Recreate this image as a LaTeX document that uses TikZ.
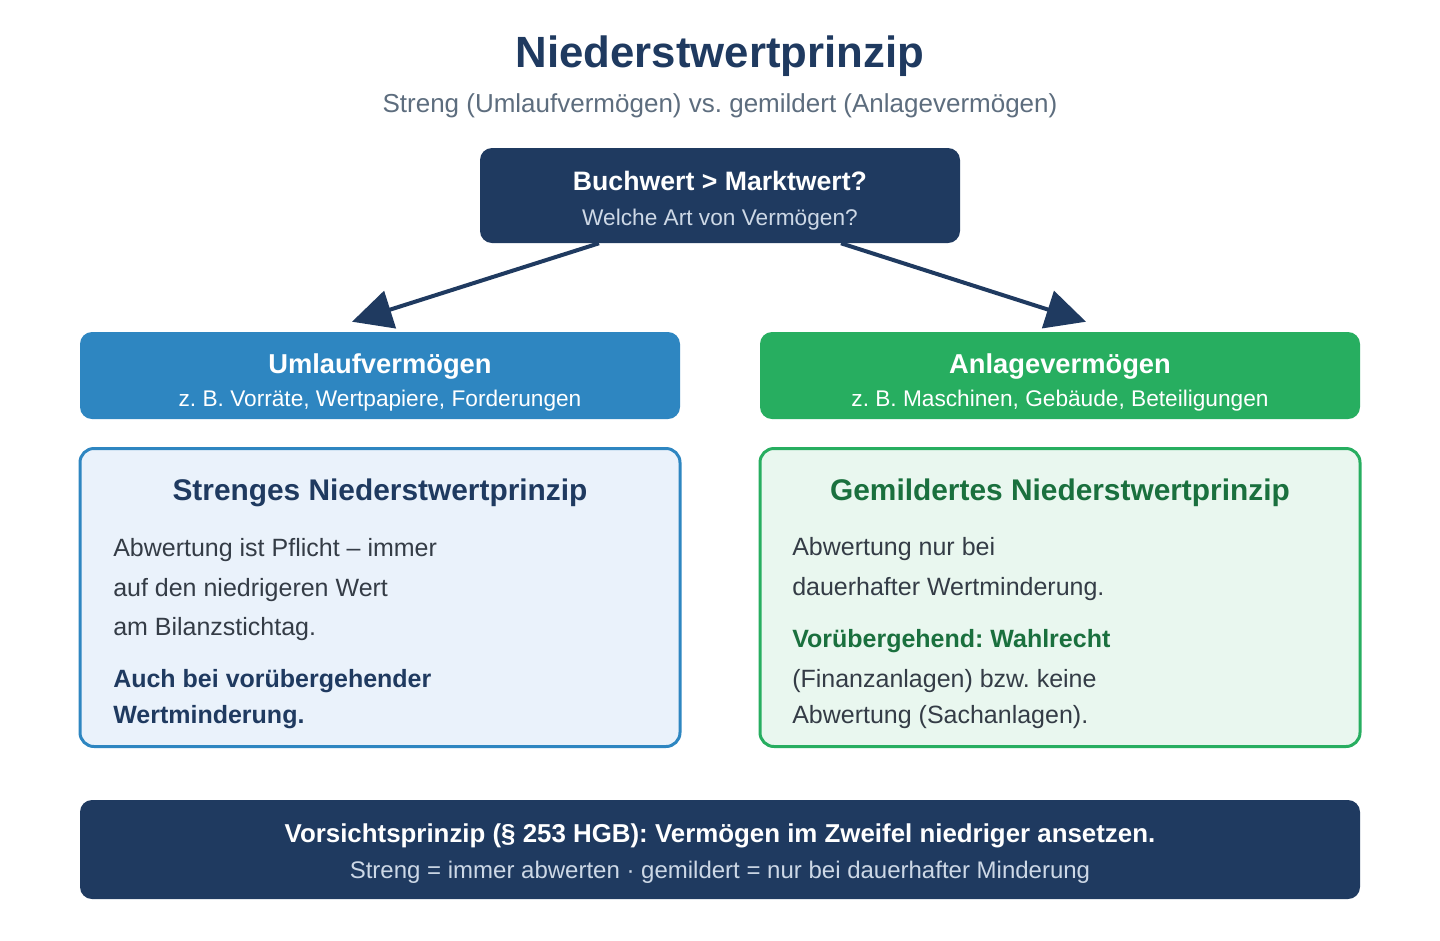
\documentclass[tikz,border=0pt]{standalone}
\usepackage{fontspec}
\setmainfont{Liberation Sans}
\usetikzlibrary{arrows.meta,positioning,calc}
\definecolor{navyDark}{RGB}{31,58,96}
\definecolor{subGray}{RGB}{93,109,126}
\definecolor{paleText}{RGB}{205,216,230}
\definecolor{umlaufBlue}{RGB}{46,134,193}
\definecolor{anlageGreen}{RGB}{39,174,96}
\definecolor{umlaufLight}{RGB}{234,242,251}
\definecolor{anlageLight}{RGB}{233,247,239}
\definecolor{greenDark}{RGB}{26,112,62}
\definecolor{bodyText}{RGB}{52,60,70}
\frenchspacing

\begin{document}
\begin{tikzpicture}[x=0.75pt,y=-0.75pt,
  box/.style={rectangle,rounded corners=9pt,inner sep=0pt},
  detail/.style={rectangle,rounded corners=10.5pt,inner sep=0pt,line width=2.25pt,
                 minimum width=450pt,minimum height=223.5pt},
  txt/.style={inner sep=0pt,anchor=base},
  line/.style={inner sep=0pt,anchor=base west,text=bodyText,font=\fontsize{18.75}{22}\selectfont},
  link/.style={-{Triangle[length=30pt,width=29pt]},line width=3pt,draw=navyDark}
]
  \fill[white] (0,0) rectangle (1440,940);
  \useasboundingbox (0,0) rectangle (1440,940);

  % title
  \node[txt,text=navyDark,font=\fontsize{32.8}{38}\selectfont\bfseries] (title) at (720,67) {Niederstwertprinzip};
  \node[txt,text=subGray,font=\fontsize{19.5}{23}\selectfont] (subtitle) at (720,112)
    {Streng (Umlaufvermögen) vs. gemildert (Anlagevermögen)};

  % question
  \node[box,fill=navyDark,minimum width=360pt,minimum height=71.25pt] (q) at (720,195.5) {};
  \node[txt,text=white,font=\fontsize{20}{24}\selectfont\bfseries] (qhead) at (720,190) {Buchwert > Marktwert?};
  \node[txt,text=paleText,font=\fontsize{17}{20}\selectfont] (qsub) at (720,225) {Welche Art von Vermögen?};

  % asset classes
  \node[box,fill=umlaufBlue,minimum width=450pt,minimum height=65.25pt] (u) at (380,375.5) {};
  \node[txt,text=white,font=\fontsize{20.5}{24}\selectfont\bfseries] (uhead) at (380,373) {Umlaufvermögen};
  \node[txt,text=white,font=\fontsize{17}{20}\selectfont] (usub) at (380,406) {z. B. Vorräte, Wertpapiere, Forderungen};

  \node[box,fill=anlageGreen,minimum width=450pt,minimum height=65.25pt] (a) at (1060,375.5) {};
  \node[txt,text=white,font=\fontsize{20.5}{24}\selectfont\bfseries] (ahead) at (1060,373) {Anlagevermögen};
  \node[txt,text=white,font=\fontsize{17}{20}\selectfont] (asub) at (1060,406) {z. B. Maschinen, Gebäude, Beteiligungen};

  \draw[link] ($(q.south)+(-121,0)$) -- ($(u.north)+(-28,-10)$);
  \draw[link] ($(q.south)+(121,0)$) -- ($(a.north)+(26,-10)$);

  % strenges Niederstwertprinzip
  \node[detail,draw=umlaufBlue,fill=umlaufLight] (s) at (380,597.5) {};
  \node[txt,text=navyDark,font=\fontsize{22.4}{26}\selectfont\bfseries] (shead) at (380,500) {Strenges Niederstwertprinzip};
  \node[line] (s1) at (113,556) {Abwertung ist Pflicht – immer};
  \node[line] (s2) at (113,596) {auf den niedrigeren Wert};
  \node[line] (s3) at (113,635) {am Bilanzstichtag.};
  \node[line,text=navyDark,font=\fontsize{18.75}{22}\selectfont\bfseries] (s4) at (113,687) {Auch bei vorübergehender};
  \node[line,text=navyDark,font=\fontsize{18.75}{22}\selectfont\bfseries] (s5) at (113,723) {Wertminderung.};

  % gemildertes Niederstwertprinzip
  \node[detail,draw=anlageGreen,fill=anlageLight] (g) at (1060,597.5) {};
  \node[txt,text=greenDark,font=\fontsize{22.4}{26}\selectfont\bfseries] (ghead) at (1060,500) {Gemildertes Niederstwertprinzip};
  \node[line] (g1) at (792,555) {Abwertung nur bei};
  \node[line] (g2) at (792,595) {dauerhafter Wertminderung.};
  \node[line,text=greenDark,font=\fontsize{18.75}{22}\selectfont\bfseries] (g3) at (792,647) {Vorübergehend: Wahlrecht};
  \node[line] (g4) at (792,687) {(Finanzanlagen) bzw. keine};
  \node[line] (g5) at (792,723) {Abwertung (Sachanlagen).};

  % Vorsichtsprinzip
  \node[box,fill=navyDark,minimum width=960pt,minimum height=74.25pt] (b) at (720,849.5) {};
  \node[txt,text=white,font=\fontsize{19.4}{23}\selectfont\bfseries] (bhead) at (720,842)
    {Vorsichtsprinzip (§ 253 HGB): Vermögen im Zweifel niedriger ansetzen.};
  \node[txt,text=paleText,font=\fontsize{18}{21}\selectfont] (bsub) at (720,878)
    {Streng = immer abwerten · gemildert = nur bei dauerhafter Minderung};
\end{tikzpicture}
\end{document}
